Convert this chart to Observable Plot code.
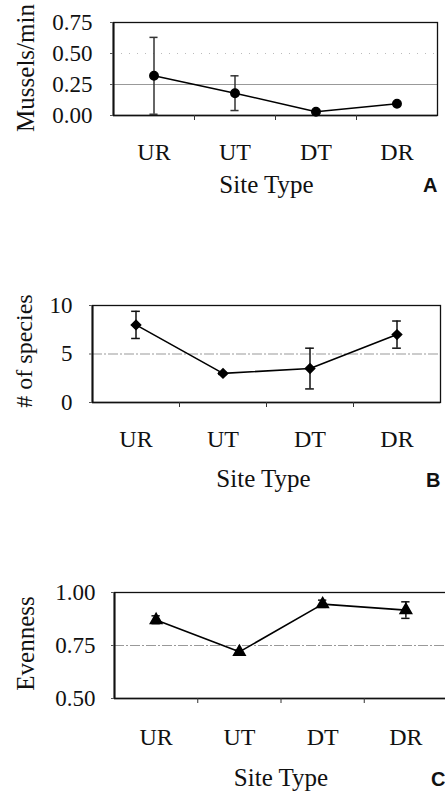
<!DOCTYPE html>
<html><head><meta charset="utf-8">
<script src="https://cdn.jsdelivr.net/npm/d3@7"></script>
<script src="https://cdn.jsdelivr.net/npm/@observablehq/plot@0.6"></script>
<style>
html,body{margin:0;padding:0;background:#fff;overflow:hidden;}
#wrap{position:relative;width:445px;height:793px;overflow:hidden;background:#fff;}
#wrap svg{position:absolute;left:0;}
</style></head><body><div id="wrap"></div>
<script>
const sites = ["UR", "UT", "DT", "DR"];
// Panel A: Mussels/min
const musselsMean = [0.32, 0.18, 0.03, 0.095];
const musselsLow  = [0.01, 0.04, 0.025, 0.088];
const musselsHigh = [0.63, 0.32, 0.035, 0.102];
const musselsTicks = [0, 0.25, 0.5, 0.75];
// Panel B: # of species
const speciesMean = [8.0, 3.0, 3.5, 7.0];
const speciesLow  = [6.6, 2.9, 1.4, 5.6];
const speciesHigh = [9.4, 3.1, 5.6, 8.4];
const speciesTicks = [0, 5, 10];
// Panel C: Evenness
const evenMean = [0.87, 0.72, 0.945, 0.917];
const evenLow  = [0.853, 0.712, 0.93, 0.878];
const evenHigh = [0.89, 0.728, 0.964, 0.956];
const evenTicks = [0.5, 0.75, 1.0];

const serif = "Liberation Serif";
const sans = "Liberation Sans";

function panel(c) {
  const rows = sites.map((s, i) => ({site: s, x: i + 0.5, y: c.mean[i], lo: c.low[i], hi: c.high[i]}));
  const cap = c.capHalf;
  const svg = Plot.plot({
    width: c.width, height: c.height,
    marginTop: c.mT, marginBottom: c.mB, marginLeft: c.mL, marginRight: c.mR,
    style: {fontFamily: serif, fontSize: "22px", background: "transparent", color: "#111", maxWidth: "none", overflow: "visible"},
    x: {type: "linear", domain: [0, 4], label: null},
    y: {domain: c.yDomain, label: null},
    marks: [
      ...c.grids.map(g => Plot.ruleY([g.v], {stroke: g.color, strokeWidth: g.w, strokeDasharray: g.dash})),
      Plot.frame({stroke: "#111", strokeWidth: 1.3}),
      Plot.ruleX([0], {stroke: "#111", strokeWidth: 2}),
      Plot.ruleY([c.yDomain[0]], {stroke: "#111", strokeWidth: 1.6}),
      Plot.axisY({ticks: c.yTicks, tickFormat: c.yFmt, tickSize: 3, tickPadding: c.yPad, fontSize: c.yFont, fontFamily: serif, fontVariant: "normal", label: null, stroke: "#555", fill: "#111"}),
      Plot.axisX({ticks: rows.map(d => d.x), tickFormat: d => sites[Math.floor(d)], tickSize: 0, tickPadding: c.xPad, fontSize: 24, fontFamily: serif, fontVariant: "normal", label: null, fill: "#111"}),
      Plot.axisX({ticks: [1, 2, 3], tickFormat: () => "", tickSize: 5, label: null, stroke: "#333"}),
      Plot.ruleX(rows, {x: "x", y1: "lo", y2: "hi", stroke: c.errColor, strokeWidth: 1.5}),
      Plot.ruleY(rows, {y: "lo", x1: d => d.x - cap, x2: d => d.x + cap, stroke: c.errColor, strokeWidth: 1.5}),
      Plot.ruleY(rows, {y: "hi", x1: d => d.x - cap, x2: d => d.x + cap, stroke: c.errColor, strokeWidth: 1.5}),
      Plot.line(rows, {x: "x", y: "y", stroke: "#000", strokeWidth: 1.6}),
      Plot.dot(rows, {x: "x", y: "y", symbol: c.symbol, r: c.r, fill: "#000", stroke: "#000"}),
      Plot.text([c.title], {text: d => d, frameAnchor: "left", rotate: -90, dx: c.titleDx, dy: c.titleDy, lineAnchor: "bottom", textAnchor: "middle", fontSize: c.titleSize, fontFamily: serif, fill: "#111"}),
      Plot.text(["Site Type"], {text: d => d, frameAnchor: "bottom", dx: c.siteDx, dy: c.siteDy, lineAnchor: "bottom", textAnchor: "middle", fontSize: 25, fontFamily: serif, fill: "#111"}),
      Plot.text([c.letter], {text: d => d, frameAnchor: "bottom-right", dx: c.letterDx, dy: c.letterDy, lineAnchor: "bottom", textAnchor: "end", fontSize: 20, fontWeight: "bold", fontFamily: sans, fill: "#111"})
    ]
  });
  svg.style.top = c.top + "px";
  return svg;
}

const wrap = document.getElementById("wrap");
const f2 = d3.format(".2f");

wrap.appendChild(panel({
  top: 0, width: 445, height: 230, mT: 22, mB: 115, mL: 113, mR: 8,
  yDomain: [0, 0.75], yTicks: musselsTicks, yFmt: f2, yPad: 18, yFont: 23,
  mean: musselsMean, low: musselsLow, high: musselsHigh,
  symbol: "circle", r: 4.2, capHalf: 0.05, errColor: "#333",
  grids: [{v: 0.25, color: "#999", w: 1.2, dash: null}, {v: 0.5, color: "#bbb", w: 1, dash: "1,7"}],
  xPad: 27, title: "Mussels/min", titleSize: 25, titleDx: -80, titleDy: -1,
  siteDx: -9, siteDy: 77, letter: "A", letterDx: 0, letterDy: 76
}));

wrap.appendChild(panel({
  top: 230, width: 445, height: 260, mT: 75, mB: 88, mL: 92, mR: 5,
  yDomain: [0, 10], yTicks: speciesTicks, yFmt: d3.format("d"), yPad: 17, yFont: 23,
  mean: speciesMean, low: speciesLow, high: speciesHigh,
  symbol: "diamond2", r: 4.2, capHalf: 0.05, errColor: "#111",
  grids: [{v: 5, color: "#999", w: 1.2, dash: "10,2,2,2"}],
  xPad: 27, title: "# of species", titleSize: 24, titleDx: -61, titleDy: -3,
  siteDx: -3, siteDy: 84, letter: "B", letterDx: 0, letterDy: 84
}));

wrap.appendChild(panel({
  top: 490, width: 447, height: 303, mT: 102, mB: 95, mL: 114, mR: 0,
  yDomain: [0.5, 1.0], yTicks: evenTicks, yFmt: f2, yPad: 16, yFont: 23,
  mean: evenMean, low: evenLow, high: evenHigh,
  symbol: "triangle", r: 4.3, capHalf: 0.05, errColor: "#111",
  grids: [{v: 0.75, color: "#999", w: 1.2, dash: "10,2,2,2"}],
  xPad: 29, title: "Evenness", titleSize: 25, titleDx: -81, titleDy: -2,
  siteDx: 0, siteDy: 87, letter: "C", letterDx: -2, letterDy: 87
}));
</script></body></html>
